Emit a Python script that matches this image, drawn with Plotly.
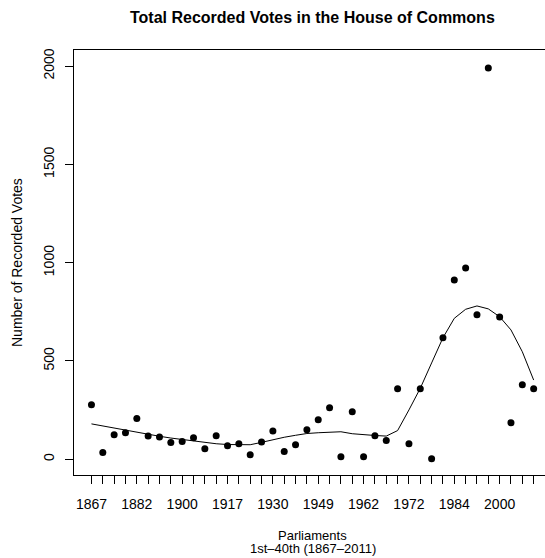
import plotly.graph_objects as go

# Parliament index 1..40
parliament = list(range(1, 41))
year_labels = ["1867", "", "", "", "1882", "", "", "", "1900", "", "", "", "1917", "", "", "",
               "1930", "", "", "", "1949", "", "", "", "1962", "", "", "", "1972", "", "", "",
               "1984", "", "", "", "2000", "", "", ""]
votes = [278, 34, 125, 135, 207, 119, 113, 85, 90, 110, 54, 120, 69, 79, 23, 88, 144, 39, 74, 150,
         201, 262, 13, 242, 13, 120, 95, 359, 79, 359, 3, 618, 912, 973, 735, 1990, 724, 186, 379, 359]
smooth = [180, 169, 158, 147, 137, 127, 117, 108, 100, 93, 86, 79, 75, 74, 74, 86, 100, 112, 122, 131,
          135, 137, 140, 130, 124, 121, 118, 146, 251, 361, 490, 618, 717, 763, 780, 765, 725, 658, 547, 403]
y_ticks = [0, 500, 1000, 1500, 2000]

FONT = "Liberation Sans, Arial, Helvetica, sans-serif"
W, H = 545, 558
ML, MR, MT, MB = 74, 0, 50, 83
PW = W - ML - MR
PH = H - MT - MB

fig = go.Figure()
fig.add_trace(go.Scatter(x=parliament, y=votes, mode="markers",
                         marker=dict(color="black", size=7, line=dict(width=0)),
                         showlegend=False, hoverinfo="skip"))
fig.add_trace(go.Scatter(x=parliament, y=smooth, mode="lines",
                         line=dict(color="black", width=1),
                         showlegend=False, hoverinfo="skip"))

fig.update_layout(
    width=W, height=H, autosize=False,
    margin=dict(l=ML, r=MR, t=MT, b=MB, pad=0),
    paper_bgcolor="white", plot_bgcolor="white",
    font=dict(family=FONT, size=14, color="black"),
    xaxis=dict(range=[-0.54, 41.0], tickmode="array", tickvals=parliament, ticktext=year_labels,
               ticks="outside", ticklen=8, tickwidth=1, tickcolor="black",
               showline=True, linecolor="black", linewidth=1, mirror=True,
               showgrid=False, zeroline=False, ticklabelstandoff=8,
               tickfont=dict(family=FONT, size=14, color="black")),
    yaxis=dict(range=[-80, 2082], tickmode="array", tickvals=y_ticks,
               ticktext=[str(v) for v in y_ticks], tickangle=-90,
               ticks="outside", ticklen=8, tickwidth=1, tickcolor="black",
               showline=True, linecolor="black", linewidth=1, mirror=False,
               showgrid=False, zeroline=False, ticklabelstandoff=5,
               tickfont=dict(family=FONT, size=14, color="black")),
)

annotations = [
    dict(text="<b>Total Recorded Votes in the House of Commons</b>", xref="paper", yref="paper",
         x=(312.6 - ML) / PW, y=1 + (MT - 17) / PH, xanchor="center", yanchor="middle",
         showarrow=False, font=dict(family=FONT, size=16, color="black")),
    dict(text="Parliaments", xref="paper", yref="paper",
         x=(312.6 - ML) / PW, y=-(535 - (MT + PH)) / PH, xanchor="center", yanchor="middle",
         showarrow=False, font=dict(family=FONT, size=13, color="black")),
    dict(text="1st\u201340th (1867\u20132011)", xref="paper", yref="paper",
         x=(312.6 - ML) / PW, y=-(548 - (MT + PH)) / PH, xanchor="center", yanchor="middle",
         showarrow=False, font=dict(family=FONT, size=13, color="black")),
    dict(text="Number of Recorded Votes", xref="paper", yref="paper",
         x=(17 - ML) / PW, y=(MT + PH - 263) / PH, xanchor="center", yanchor="middle",
         textangle=-90, showarrow=False, font=dict(family=FONT, size=14, color="black")),
]
fig.update_layout(annotations=annotations)

fig.write_html("out.html",
               config={"displayModeBar": False, "staticPlot": True},
               post_script="document.body.style.margin='0';document.body.style.padding='0';"
                           "document.documentElement.style.overflow='hidden';")
